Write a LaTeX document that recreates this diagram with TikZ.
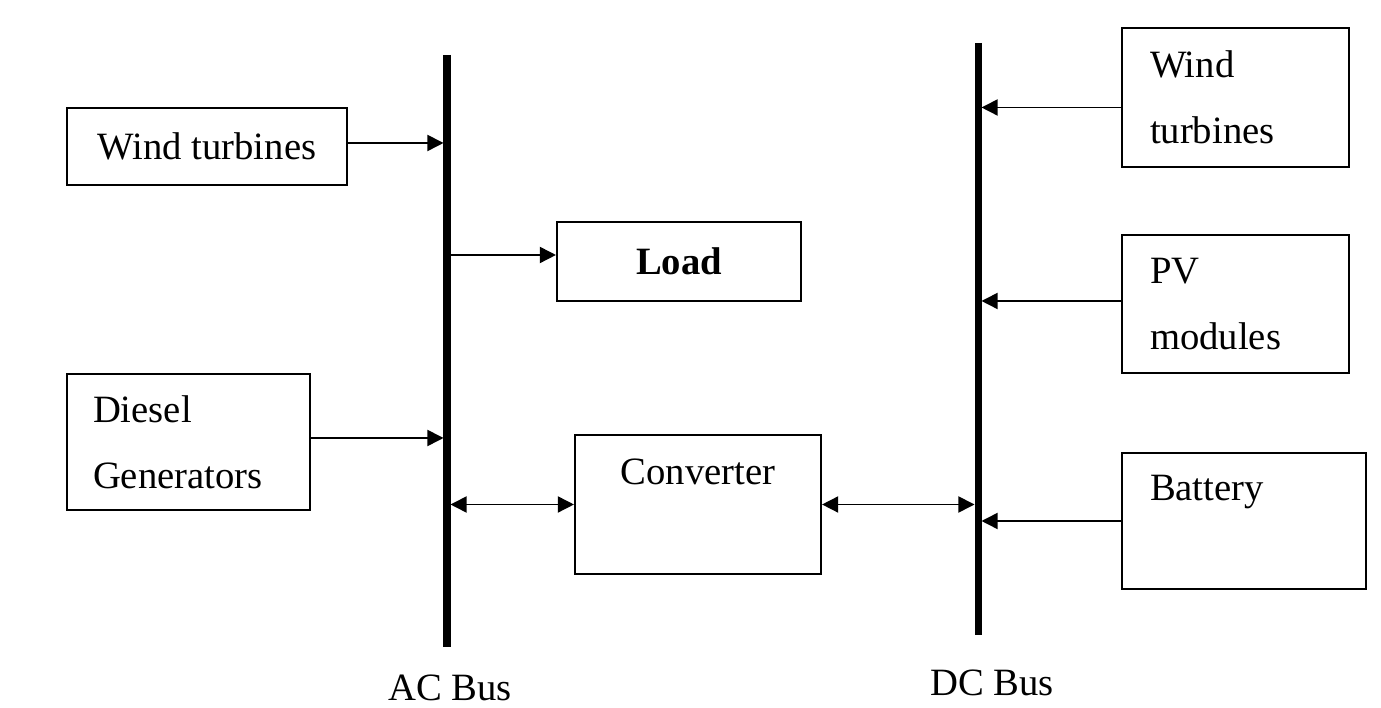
\documentclass[tikz,border=0pt]{standalone}
\usepackage{fontspec}
\setmainfont{Liberation Serif}
\usetikzlibrary{arrows.meta}

\begin{document}
\begin{tikzpicture}[>={Triangle[length=4.6pt,width=4.6pt]},
    every node/.style={font=\fontsize{11}{18.7}\selectfont},
    box/.style={draw, line width=0.6pt, inner xsep=0.26cm, inner ysep=0pt},
    link/.style={line width=0.45pt},
    bus/.style={line width=2pt}]

    % frame of the picture
    \useasboundingbox (0,0) rectangle (13.81,7.08);

    % buses
    \coordinate (acT) at (4.47,6.53);
    \coordinate (acB) at (4.47,0.61);
    \coordinate (dcT) at (9.78,6.65);
    \coordinate (dcB) at (9.78,0.73);

    % AC side
    \node[box, minimum width=2.80cm, minimum height=0.77cm] (wtl) at (2.07,5.615) {Wind turbines};
    \node[box, minimum width=2.44cm, minimum height=0.79cm] (load) at (6.79,4.465) {\textbf{Load}};
    \node[box, minimum width=2.43cm, minimum height=1.36cm, align=left, text width=1.91cm] (dg) at (1.885,2.66) {Diesel\\Generators};
    \node[box, minimum width=2.46cm, minimum height=1.39cm, align=center] (conv) at (6.98,2.035) {Converter\\\mbox{}};

    % DC side
    \node[box, minimum width=2.27cm, minimum height=1.39cm, align=left, text width=1.71cm] (wtr) at (12.355,6.105) {Wind\\turbines};
    \node[box, minimum width=2.27cm, minimum height=1.38cm, align=left, text width=1.71cm] (pv) at (12.355,4.04) {PV\\modules};
    \node[box, minimum width=2.44cm, minimum height=1.36cm, align=left, text width=1.88cm] (bat) at (12.44,1.87) {Battery\\\mbox{}};

    % connections
    \draw[link,->, shorten >=0.035cm] ([yshift=0.035cm]wtl.east) -- ([yshift=0.035cm]wtl.east -| acT);
    \draw[link,->, shorten <=0.035cm] ([yshift=0.065cm]load.west -| acT) -- ([yshift=0.065cm]load.west);
    \draw[link,->, shorten >=0.035cm] ([yshift=0.04cm]dg.east) -- ([yshift=0.04cm]dg.east -| acT);
    \draw[link,<->, shorten <=0.035cm] (conv.west -| acT) -- (conv.west);
    \draw[link,<->, shorten >=0.035cm] (conv.east) -- (conv.east -| dcT);
    \draw[link,->, shorten >=0.035cm] ([yshift=-0.1cm]wtr.west) -- ([yshift=-0.1cm]wtr.west -| dcT);
    \draw[link,->, shorten >=0.035cm] ([yshift=0.03cm]pv.west) -- ([yshift=0.03cm]pv.west -| dcT);
    \draw[link,->, shorten >=0.035cm] (bat.west) -- (bat.west -| dcT);

    \draw[bus] (acT) -- (acB);
    \draw[bus] (dcT) -- (dcB);

    % bus labels
    \node (aclabel) at (4.50,0.20) {AC Bus};
    \node (dclabel) at (9.92,0.25) {DC Bus};

\end{tikzpicture}
\end{document}
